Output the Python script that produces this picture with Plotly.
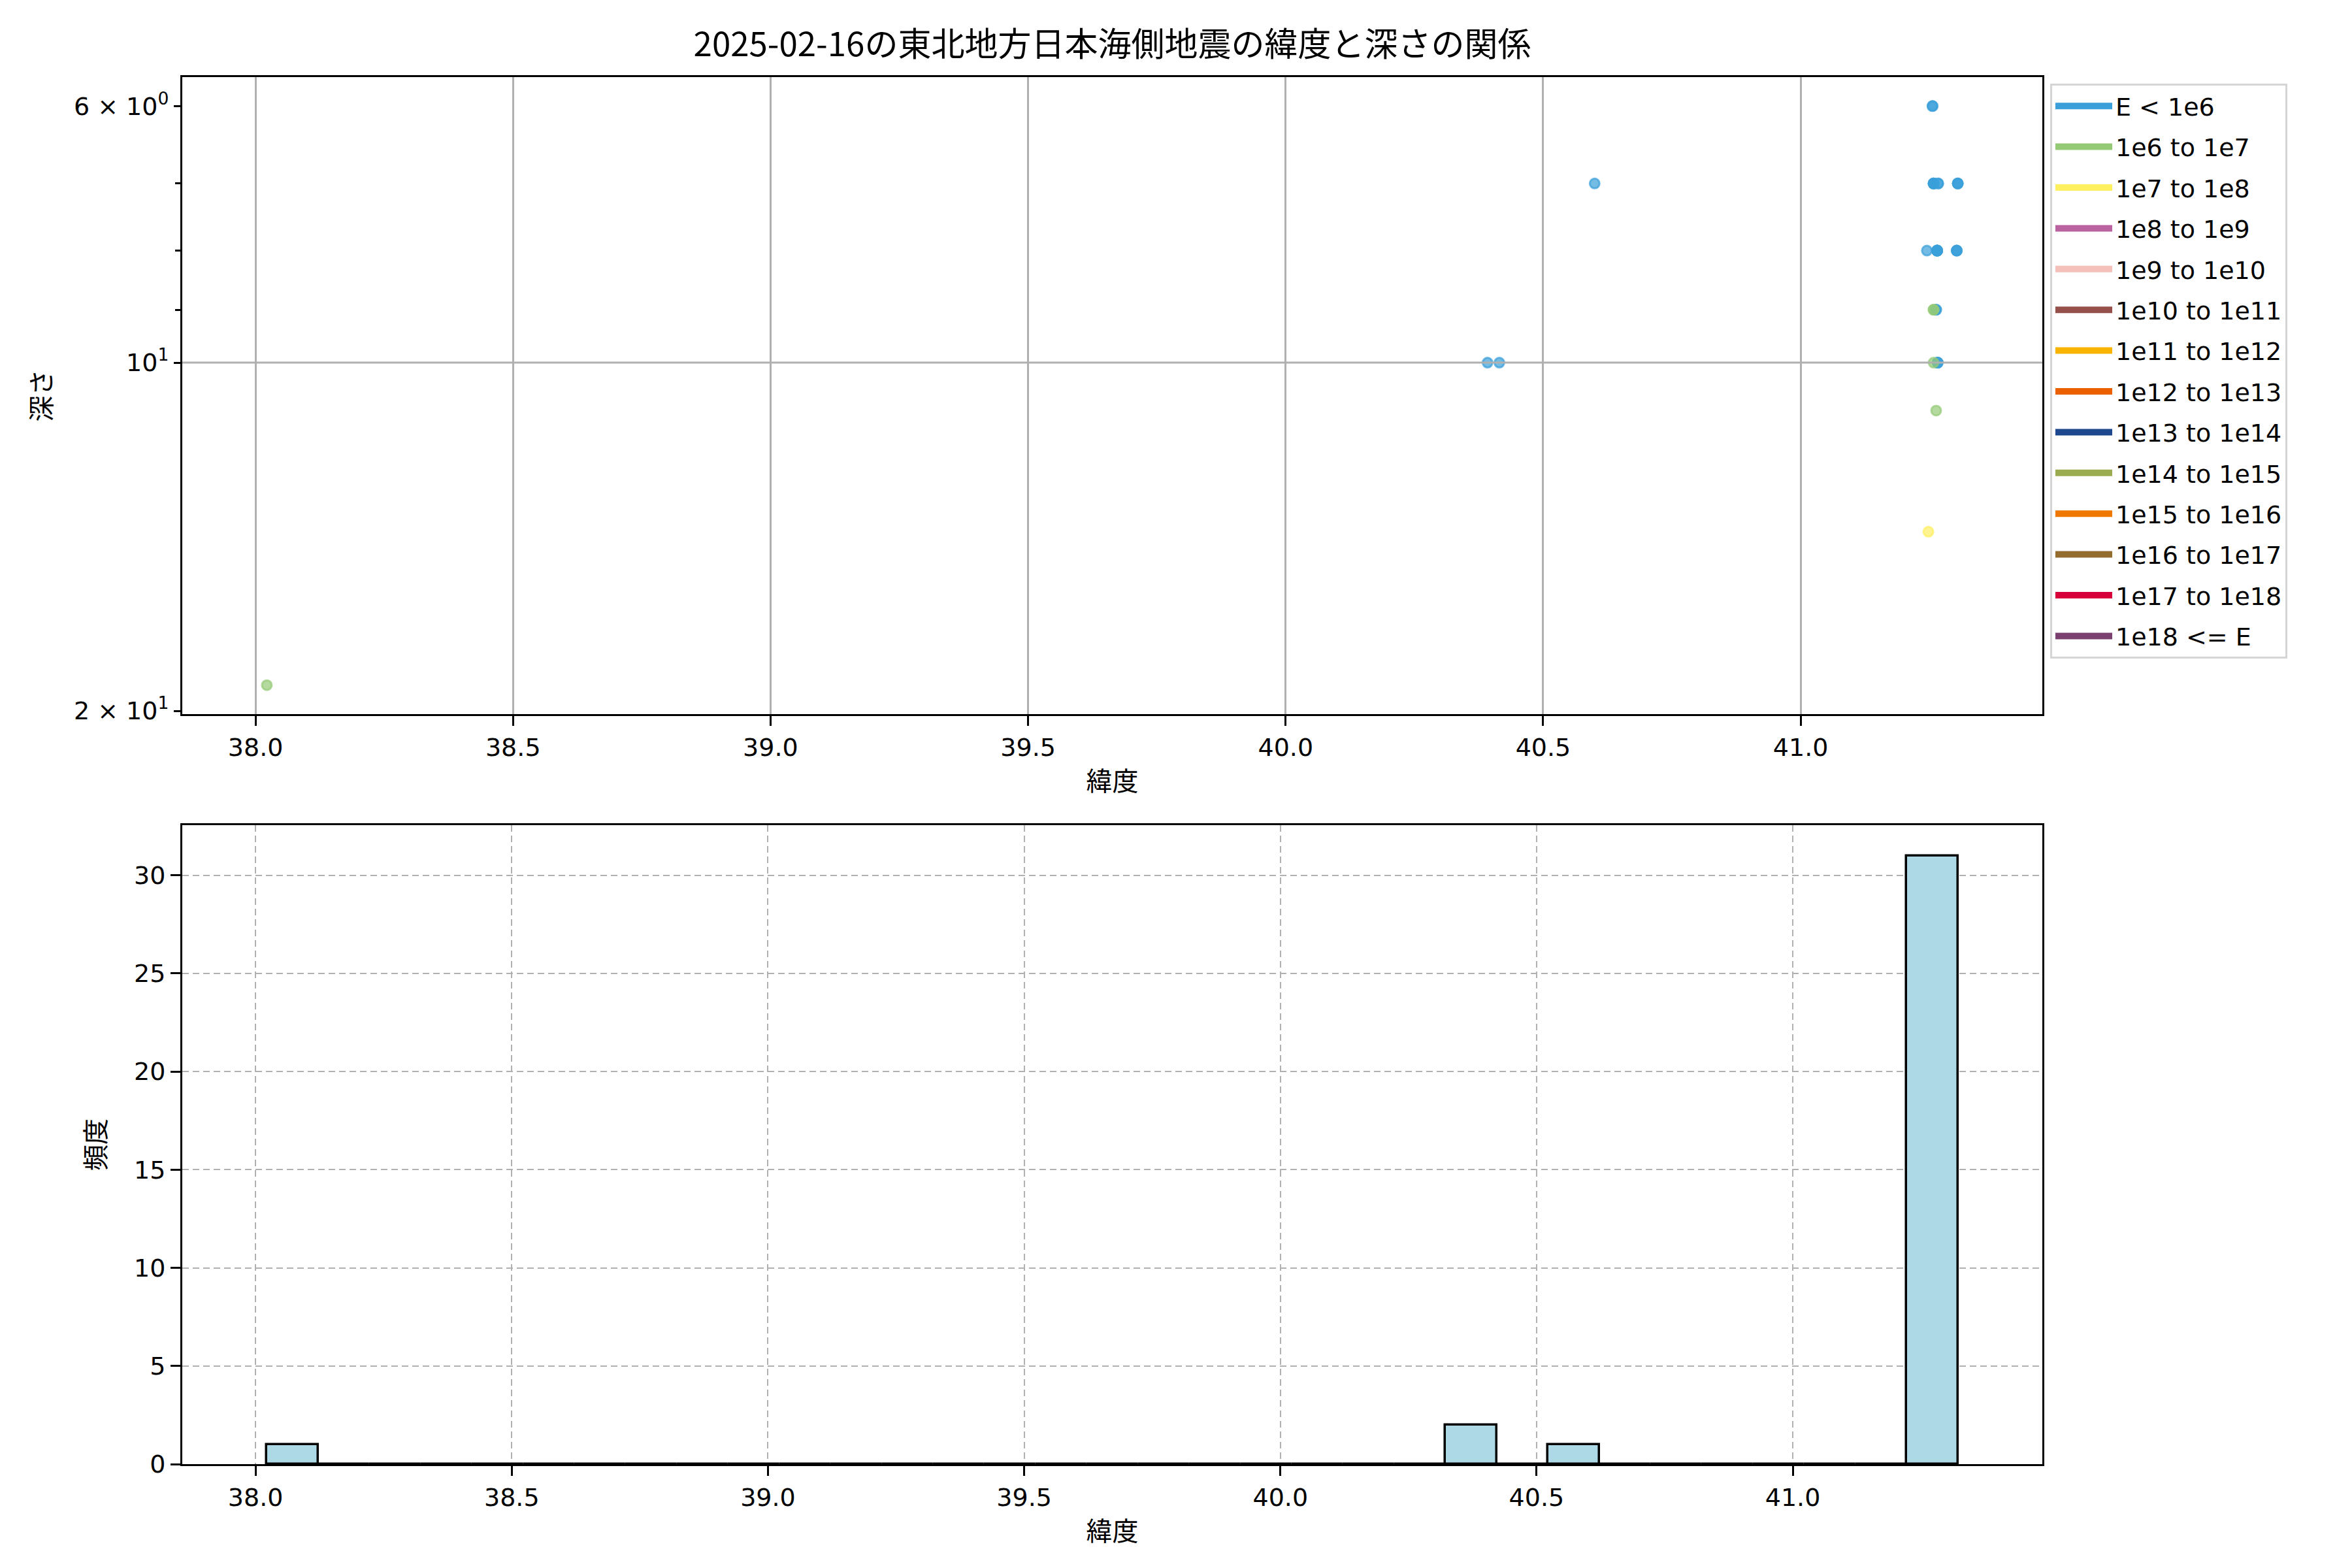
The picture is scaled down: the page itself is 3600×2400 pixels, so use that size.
import numpy as np
import plotly.graph_objects as go

FONT = "Noto Sans CJK JP"
NUM_FONT = "DejaVu Sans, Noto Sans CJK JP"

TITLE = "2025-02-16の東北地方日本海側地震の緯度と深さの関係"
X_LABEL = "緯度"
Y_LABEL_TOP = "深さ"
Y_LABEL_BOTTOM = "頻度"

energy_labels = [
    "E < 1e6", "1e6 to 1e7", "1e7 to 1e8", "1e8 to 1e9", "1e9 to 1e10",
    "1e10 to 1e11", "1e11 to 1e12", "1e12 to 1e13", "1e13 to 1e14",
    "1e14 to 1e15", "1e15 to 1e16", "1e16 to 1e17", "1e17 to 1e18", "1e18 <= E",
]
energy_colors = [
    "#3ba0da", "#94ca76", "#fff062", "#bb62a0", "#f5c0ba",
    "#96504b", "#f8b400", "#eb6100", "#1d488e",
    "#9bab50", "#ee7800", "#946c2d", "#d8003a", "#7c4070",
]

# unique (latitude, depth, energy class) positions and how many events share them
lat = [38.022, 40.392, 40.415, 40.600, 41.256, 41.258, 41.267, 41.305, 41.245,
       41.265, 41.303, 41.258, 41.263, 41.258, 41.266, 41.263, 41.248]
depth = [19, 10, 10, 7, 6, 7, 7, 7, 8,
         8, 8, 9, 9, 10, 10, 11, 14]
energy_class = [1, 0, 0, 0, 0, 0, 0, 0, 0,
                0, 0, 1, 0, 1, 0, 1, 2]
count = [1, 1, 1, 1, 2, 4, 2, 3, 1,
         6, 3, 2, 2, 1, 3, 1, 1]

lat_tick_vals = [38.0, 38.5, 39.0, 39.5, 40.0, 40.5, 41.0]
lat_tick_text = ["38.0", "38.5", "39.0", "39.5", "40.0", "40.5", "41.0"]
depth_tick_vals = [6, 10, 20]
depth_tick_text = ["6 × 10<sup>0</sup>", "10<sup>1</sup>", "2 × 10<sup>1</sup>"]
depth_minor_vals = [7, 8, 9]
depth_grid_vals = [10]
freq_tick_vals = [0, 5, 10, 15, 20, 25, 30]

# expand events
lat_all = np.repeat(np.array(lat), count)
depth_all = np.repeat(np.array(depth), count)
cls_all = np.repeat(np.array(energy_class), count)

# histogram bins of width 0.1 starting at min latitude
edges = np.arange(lat_all.min(), lat_all.max() + 0.1, 0.1)
hist_counts, edges = np.histogram(lat_all, bins=edges)


def hex_rgba(h, a):
    h = h.lstrip("#")
    r, g, b = int(h[0:2], 16), int(h[2:4], 16), int(h[4:6], 16)
    return f"rgba({r},{g},{b},{a})"


def padded(lo, hi, frac=0.05):
    s = hi - lo
    return lo - frac * s, hi + frac * s


fig = go.Figure()

# scatter points per energy class
for ci, (lab, col) in enumerate(zip(energy_labels, energy_colors)):
    m = cls_all == ci
    if not m.any():
        continue
    fig.add_trace(go.Scatter(
        x=lat_all[m], y=depth_all[m], mode="markers",
        marker=dict(size=15, color=hex_rgba(col, 0.7),
                    line=dict(color=hex_rgba(col, 0.7), width=3)),
        xaxis="x", yaxis="y", showlegend=False, name=lab,
    ))

# legend entries (patches)
for i, (lab, col) in enumerate(zip(energy_labels, energy_colors)):
    fig.add_trace(go.Scatter(
        x=[None], y=[None], mode="lines", line=dict(color=col, width=19),
        name=lab, xaxis="x", yaxis="y", showlegend=True,
        legendgroup=f"g{i}",
    ))

# histogram bars
fig.add_trace(go.Bar(
    x=(edges[:-1] + edges[1:]) / 2, y=hist_counts, width=np.diff(edges),
    marker=dict(color="#add8e6", line=dict(color="black", width=3.5)),
    xaxis="x2", yaxis="y2", showlegend=False,
))

x_top = padded(lat_all.min(), lat_all.max())
x_bot = padded(edges[0], edges[-1])
ly = padded(np.log10(depth_all.min()), np.log10(depth_all.max()))
y_top_range = [ly[1], ly[0]]
y_bot_range = [0, hist_counts.max() * 1.05]

L, R, T, B = 271, 482, 110, 167
H = 2400
plot_h = H - T - B
top_dom = [(H - B - 1085) / plot_h, 1]
bot_dom = [0, (H - B - 1255) / plot_h]

axis_common = dict(
    showline=True, mirror=True, linecolor="black", linewidth=3,
    ticks="outside", ticklen=15, tickwidth=3, tickcolor="black",
    zeroline=False, tickfont=dict(size=38, family=NUM_FONT, color="black"),
)

# major grid line of the log depth axis (matplotlib draws it only at 10^1)
shapes = [
    dict(type="line", xref="x domain", x0=0, x1=1, yref="y", y0=v, y1=v,
         line=dict(color="#b0b0b0", width=3), layer="above")
    for v in depth_grid_vals
]

fig.update_layout(
    width=3600, height=2400,
    margin=dict(l=L, r=R, t=T, b=B, autoexpand=False),
    paper_bgcolor="white", plot_bgcolor="white",
    font=dict(family=FONT, size=40, color="black"),
    title=dict(text=TITLE, x=0.5, xref="paper", xanchor="center",
               y=1 - 60 / H, yref="container", yanchor="middle",
               font=dict(size=51, family=FONT, color="black")),
    bargap=0,
    shapes=shapes,
    xaxis=dict(domain=[0, 1], anchor="y", range=list(x_top),
               tickvals=lat_tick_vals, ticktext=lat_tick_text,
               showgrid=True, gridcolor="#b0b0b0", gridwidth=3,
               title=dict(text=X_LABEL, standoff=18, font=dict(size=40)),
               **axis_common),
    yaxis=dict(domain=top_dom, anchor="x", type="log", range=y_top_range,
               tickvals=depth_tick_vals, ticktext=depth_tick_text,
               showgrid=False,
               minor=dict(tickvals=depth_minor_vals, ticklen=8, tickwidth=2.5,
                          ticks="outside", tickcolor="black", showgrid=False),
               title=dict(text=Y_LABEL_TOP, standoff=22, font=dict(size=40)),
               **{**axis_common, "ticklen": 10, "tickwidth": 2.5}),
    xaxis2=dict(domain=[0, 1], anchor="y2", range=list(x_bot),
                tickvals=lat_tick_vals, ticktext=lat_tick_text,
                showgrid=True, gridcolor="#b0b0b0", gridwidth=2,
                griddash="10px,6px",
                title=dict(text=X_LABEL, standoff=18, font=dict(size=40)),
                **axis_common),
    yaxis2=dict(domain=bot_dom, anchor="x2", range=y_bot_range,
                tickvals=freq_tick_vals,
                showgrid=True, gridcolor="#b0b0b0", gridwidth=2,
                griddash="10px,6px",
                title=dict(text=Y_LABEL_BOTTOM, standoff=32, font=dict(size=40)),
                **axis_common),
    legend=dict(x=(3130 - L) / (3600 - L - R), y=1 - (120 - T) / plot_h,
                xanchor="left", yanchor="top",
                bgcolor="white", bordercolor="#d5d5d5", borderwidth=3,
                font=dict(size=38, family=NUM_FONT, color="black"),
                itemwidth=87, traceorder="grouped", tracegroupgap=10),
)

fig.write_html("out.html")
